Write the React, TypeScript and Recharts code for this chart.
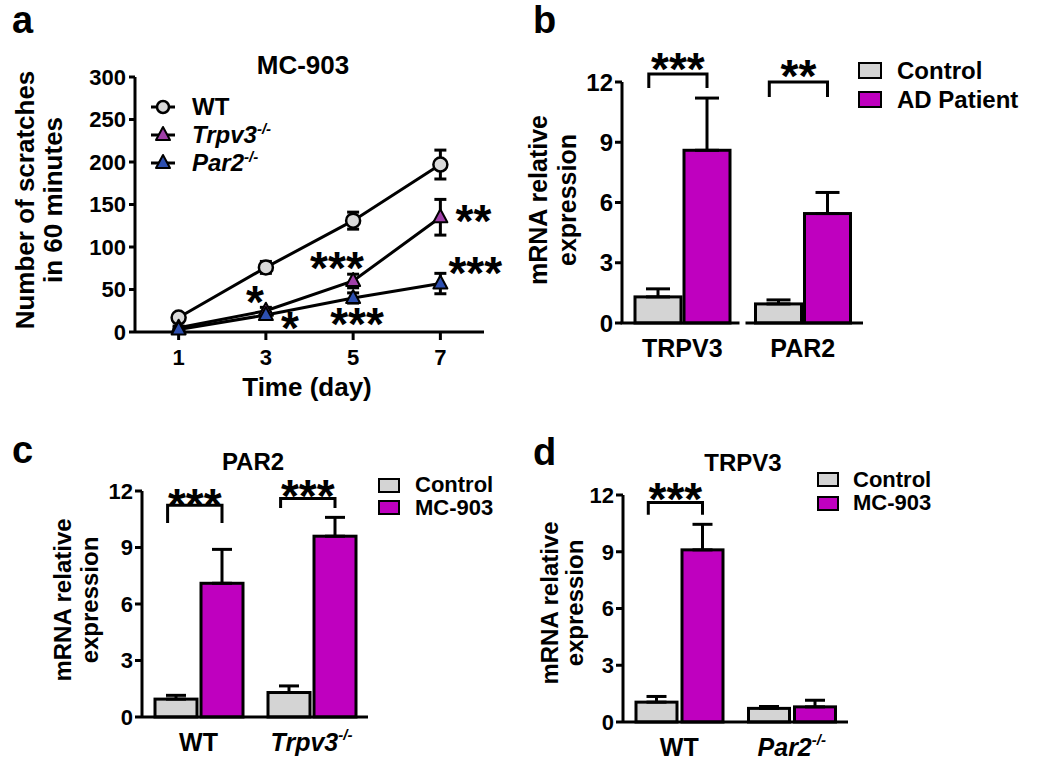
import React from 'react';
import {
  ComposedChart,
  Line,
  Scatter,
  XAxis,
  YAxis,
  ErrorBar,
  Legend,
  BarChart,
  Bar,
} from 'recharts';

const FONT = '"Liberation Sans", Arial, Helvetica, sans-serif';
const BLACK = '#000000';
const GRAY = '#d4d4d4';
const MAGENTA = '#bf00bf';
const WT_FILL = '#d9d9d9';
const TRPV3_FILL = '#a040a8';
const PAR2_FILL = '#2d4fb0';
const STAR_FS = 46;
const STAR_SHIFT = 0.48;

// ---------- Panel a : scratches over time ----------
const days = [1, 3, 5, 7];
const wtScratches = [17, 76, 131, 197];
const wtScratchesSem = [4, 7, 10, 17];
const trpv3Scratches = [5, 25, 60, 135];
const trpv3ScratchesSem = [2, 4, 8, 21];
const par2Scratches = [3, 20, 40, 57];
const par2ScratchesSem = [2, 3, 6, 12];
const scratchTicks = [0, 50, 100, 150, 200, 250, 300];
const dayTicks = [1, 3, 5, 7];
const sigADay = [2.75, 3.55, 4.63, 5.09, 7.76, 7.8];
const sigAValue = [43, 12, 82, 16, 138, 76];
const sigAText = ['*', '*', '***', '***', '**', '***'];

// ---------- Panel b : human skin ----------
const bGenes = ['TRPV3', 'PAR2'];
const bControl = [1.3, 0.95];
const bControlSem = [0.4, 0.2];
const bPatient = [8.6, 5.45];
const bPatientSem = [2.6, 1.05];
const bBracketTop = [12.4, 12.0];
const bBracketLeg = [11.7, 11.25];
const bStarLevel = [12.95, 12.6];
const bStars = ['***', '**'];

// ---------- Panel c : PAR2 expression ----------
const cGenotypes = ['WT', 'Trpv3-/-'];
const cControl = [0.95, 1.3];
const cControlSem = [0.2, 0.35];
const cMC903 = [7.1, 9.6];
const cMC903Sem = [1.8, 1.0];
const cBracketTop = [11.25, 11.6];
const cBracketLeg = [10.3, 11.1];
const cStarLevel = [11.6, 12.05];
const cStars = ['***', '***'];

// ---------- Panel d : TRPV3 expression ----------
const dGenotypes = ['WT', 'Par2-/-'];
const dControl = [1.05, 0.72];
const dControlSem = [0.3, 0.1];
const dMC903 = [9.1, 0.8];
const dMC903Sem = [1.35, 0.35];
const dBracketTop = [11.6, 0];
const dBracketLeg = [10.95, 0];
const dStarLevel = [12.1, 0];
const dStars = ['***', ''];

const exprTicks = [0, 3, 6, 9, 12];

const lineData = days.map((day, i) => ({
  day,
  wt: wtScratches[i],
  wtErr: wtScratchesSem[i],
  trpv3: trpv3Scratches[i],
  trpv3Err: trpv3ScratchesSem[i],
  par2: par2Scratches[i],
  par2Err: par2ScratchesSem[i],
}));
const sigAData = sigADay.map((day, i) => ({ day, y: sigAValue[i], text: sigAText[i] }));

function buildBarData(cats, ctl, ctlSem, trt, trtSem, top, leg, level, stars) {
  return cats.map((cat, i) => ({
    cat,
    ctl: ctl[i],
    ctlErr: [0, ctlSem[i]],
    trt: trt[i],
    trtErr: [0, trtSem[i]],
    bracketTop: top[i],
    bracketLeg: leg[i],
    starLevel: level[i],
    stars: stars[i],
  }));
}
const bData = buildBarData(bGenes, bControl, bControlSem, bPatient, bPatientSem, bBracketTop, bBracketLeg, bStarLevel, bStars);
const cData = buildBarData(cGenotypes, cControl, cControlSem, cMC903, cMC903Sem, cBracketTop, cBracketLeg, cStarLevel, cStars);
const dData = buildBarData(dGenotypes, dControl, dControlSem, dMC903, dMC903Sem, dBracketTop, dBracketLeg, dStarLevel, dStars);

// ---------- shared pieces ----------
const boldText = { fontFamily: FONT, fontWeight: 'bold' as const, color: BLACK };

function GeneLabel({ label, supSize }: { label: string; supSize: number }) {
  const m = label.match(/^(.*?)(-\/-)$/);
  if (!m) return <span>{label}</span>;
  return (
    <span style={{ fontStyle: 'italic' }}>
      {m[1]}
      <sup style={{ fontSize: supSize, lineHeight: 0, verticalAlign: 'super' }}>{m[2]}</sup>
    </span>
  );
}

const CircleDot = (p: any) =>
  p.cx == null ? null : (
    <circle key={`c-${p.index}`} cx={p.cx} cy={p.cy} r={7} fill={WT_FILL} stroke={BLACK} strokeWidth={2.5} />
  );

const makeTriangle = (fill: string) => (p: any) =>
  p.cx == null ? null : (
    <path
      key={`t-${p.index}`}
      d={`M${p.cx},${p.cy - 8} L${p.cx + 7},${p.cy + 5} L${p.cx - 7},${p.cy + 5} Z`}
      fill={fill}
      stroke={BLACK}
      strokeWidth={2}
      strokeLinejoin="round"
    />
  );

const StarShape = (p: any) =>
  p.cx == null ? null : (
    <text
      x={p.cx}
      y={p.cy + STAR_FS * STAR_SHIFT}
      textAnchor="middle"
      fontFamily={FONT}
      fontWeight="bold"
      fontSize={STAR_FS}
      fill={BLACK}
    >
      {p.payload.text}
    </text>
  );

const LineLegend = () => {
  const items = [
    { label: 'WT', icon: 'circle', fill: WT_FILL },
    { label: 'Trpv3-/-', icon: 'tri', fill: TRPV3_FILL },
    { label: 'Par2-/-', icon: 'tri', fill: PAR2_FILL },
  ];
  return (
    <div style={{ ...boldText, fontSize: 24 }}>
      {items.map((it) => (
        <div key={it.label} style={{ display: 'flex', alignItems: 'center', height: 28 }}>
          <svg width={30} height={20} style={{ display: 'block' }}>
            <line x1={3} y1={10} x2={27} y2={10} stroke={BLACK} strokeWidth={3} />
            {it.icon === 'circle' ? (
              <circle cx={15} cy={10} r={6} fill={it.fill} stroke={BLACK} strokeWidth={2.5} />
            ) : (
              <path d="M15,2 L22,15 L8,15 Z" fill={it.fill} stroke={BLACK} strokeWidth={2} strokeLinejoin="round" />
            )}
          </svg>
          <span style={{ marginLeft: 14, lineHeight: 1 }}>
            <GeneLabel label={it.label} supSize={15} />
          </span>
        </div>
      ))}
    </div>
  );
};

const BoxLegend = ({ items, fontSize, boxW, boxH, rowH, gap }: any) => (
  <div style={{ ...boldText, fontSize }}>
    {items.map((it: any) => (
      <div key={it.label} style={{ display: 'flex', alignItems: 'center', height: rowH }}>
        <div
          style={{
            width: boxW,
            height: boxH,
            background: it.color,
            border: `2.5px solid ${BLACK}`,
            boxSizing: 'border-box',
          }}
        />
        <span style={{ marginLeft: gap, lineHeight: 1 }}>{it.label}</span>
      </div>
    ))}
  </div>
);

const CategoryTick = (props: any) => {
  const { x, y, payload, index, fontSize, tickMargin, segment } = props;
  const label = String(payload.value);
  const m = label.match(/^(.*?)(-\/-)$/);
  const axisY = y - tickMargin;
  let seg = null;
  if (segment) {
    const x1 = x - segment.half + (index > 0 ? segment.gap : -1.5);
    const x2 = x + segment.half - (index === 0 ? segment.gap : 0);
    seg = <line x1={x1} y1={axisY} x2={x2} y2={axisY} stroke={BLACK} strokeWidth={3} />;
  }
  return (
    <g>
      {seg}
      <text x={x} y={y} dy="0.71em" textAnchor="middle" fontFamily={FONT} fontWeight="bold" fontSize={fontSize} fill={BLACK}>
        {m ? (
          <>
            <tspan fontStyle="italic">{m[1]}</tspan>
            <tspan fontStyle="italic" fontSize={fontSize * 0.6} dy={-fontSize * 0.42}>
              {m[2]}
            </tspan>
          </>
        ) : (
          label
        )}
      </text>
    </g>
  );
};

const makeTrtShape = (barGap: number) => (p: any) => {
  const { x, y, width, height, payload, fill } = p;
  const parts = [
    <rect key="r" x={x} y={y} width={width} height={height} fill={fill} stroke={BLACK} strokeWidth={3} />,
  ];
  if (payload && payload.stars) {
    const ppu = height / payload.trt;
    const base = y + height;
    const Y = (v: number) => base - v * ppu;
    const xl = x - barGap - width * 0.7;
    const xr = x + width / 2;
    parts.push(
      <path
        key="b"
        d={`M${xl},${Y(payload.bracketLeg)} L${xl},${Y(payload.bracketTop)} L${xr},${Y(payload.bracketTop)} L${xr},${Y(payload.bracketLeg)}`}
        fill="none"
        stroke={BLACK}
        strokeWidth={3}
      />
    );
    parts.push(
      <text
        key="s"
        x={(xl + xr) / 2}
        y={Y(payload.starLevel) + STAR_FS * STAR_SHIFT}
        textAnchor="middle"
        fontFamily={FONT}
        fontWeight="bold"
        fontSize={STAR_FS}
        fill={BLACK}
      >
        {payload.stars}
      </text>
    );
  }
  return <g>{parts}</g>;
};

const CtlShape = (p: any) => (
  <rect x={p.x} y={p.y} width={p.width} height={p.height} fill={p.fill} stroke={BLACK} strokeWidth={3} />
);

function BarPanel(cfg: any) {
  const tickMargin = 16;
  return (
    <div style={{ position: 'absolute', left: cfg.left, top: cfg.top }}>
      <BarChart
        width={cfg.width}
        height={cfg.height}
        data={cfg.data}
        margin={cfg.margin}
        barGap={cfg.barGap}
      >
        <XAxis
          dataKey="cat"
          type="category"
          height={40}
          tickSize={0}
          tickMargin={tickMargin}
          tickLine={false}
          axisLine={cfg.segment ? false : { stroke: BLACK, strokeWidth: 3 }}
          interval={0}
          tick={(p: any) => (
            <CategoryTick {...p} fontSize={cfg.catFont} tickMargin={tickMargin} segment={cfg.segment} />
          )}
        />
        <YAxis
          type="number"
          domain={[0, 12]}
          ticks={exprTicks}
          width={60}
          tickSize={7}
          tickMargin={2}
          axisLine={{ stroke: BLACK, strokeWidth: 3 }}
          tickLine={{ stroke: BLACK, strokeWidth: 3 }}
          tick={{ fill: BLACK, fontSize: cfg.yTickFont, fontWeight: 'bold', fontFamily: FONT }}
        />
        <Legend
          layout="vertical"
          align="center"
          verticalAlign="middle"
          wrapperStyle={{ left: cfg.legend.left, top: cfg.legend.top, width: 'auto' }}
          content={() => (
            <BoxLegend
              items={[
                { label: 'Control', color: GRAY },
                { label: cfg.trtName, color: MAGENTA },
              ]}
              fontSize={cfg.legend.fontSize}
              boxW={cfg.legend.boxW}
              boxH={cfg.legend.boxH}
              rowH={cfg.legend.rowH}
              gap={cfg.legend.gap}
            />
          )}
        />
        <Bar dataKey="ctl" name="Control" fill={GRAY} barSize={cfg.barSize} shape={CtlShape} isAnimationActive={false}>
          <ErrorBar dataKey="ctlErr" width={cfg.capHalf} strokeWidth={3} stroke={BLACK} direction="y" />
        </Bar>
        <Bar
          dataKey="trt"
          name={cfg.trtName}
          fill={MAGENTA}
          barSize={cfg.barSize}
          shape={makeTrtShape(cfg.barGap)}
          isAnimationActive={false}
        >
          <ErrorBar dataKey="trtErr" width={cfg.capHalf} strokeWidth={3} stroke={BLACK} direction="y" />
        </Bar>
      </BarChart>
    </div>
  );
}

function AbsText({ x, y, size, children, style }: any) {
  return (
    <div
      style={{
        position: 'absolute',
        left: x,
        top: y,
        transform: 'translate(-50%, -50%)',
        whiteSpace: 'nowrap',
        lineHeight: 1,
        fontSize: size,
        ...boldText,
        ...style,
      }}
    >
      {children}
    </div>
  );
}

function RotLabel({ x, y, size, lineHeight, lines }: any) {
  return (
    <div
      style={{
        position: 'absolute',
        left: x,
        top: y,
        transform: 'translate(-50%, -50%) rotate(-90deg)',
        whiteSpace: 'nowrap',
        textAlign: 'center',
        lineHeight: `${lineHeight}px`,
        fontSize: size,
        ...boldText,
      }}
    >
      {lines.map((l: string) => (
        <div key={l}>{l}</div>
      ))}
    </div>
  );
}

function PanelLetter({ x, y, children }: any) {
  return (
    <div style={{ position: 'absolute', left: x, top: y, fontSize: 38, lineHeight: 1, ...boldText }}>{children}</div>
  );
}

export default function App() {
  return (
    <div
      style={{
        position: 'absolute',
        left: 0,
        top: 0,
        width: 1050,
        height: 765,
        background: '#ffffff',
        overflow: 'hidden',
        fontFamily: FONT,
      }}
    >
      {/* Panel a */}
      <div style={{ position: 'absolute', left: 0, top: 0 }}>
        <ComposedChart width={520} height={400} data={lineData} margin={{ top: 77, right: 36, bottom: 38, left: 75 }}>
          <XAxis
            dataKey="day"
            type="number"
            domain={[0, 8]}
            ticks={dayTicks}
            height={30}
            tickSize={8}
            tickMargin={9}
            axisLine={{ stroke: BLACK, strokeWidth: 3 }}
            tickLine={{ stroke: BLACK, strokeWidth: 3 }}
            tick={{ fill: BLACK, fontSize: 22, fontWeight: 'bold', fontFamily: FONT }}
          />
          <YAxis
            type="number"
            domain={[0, 300]}
            ticks={scratchTicks}
            width={60}
            tickSize={6}
            tickMargin={3}
            axisLine={{ stroke: BLACK, strokeWidth: 3 }}
            tickLine={{ stroke: BLACK, strokeWidth: 3 }}
            tick={{ fill: BLACK, fontSize: 22, fontWeight: 'bold', fontFamily: FONT }}
          />
          <Legend
            layout="vertical"
            align="center"
            verticalAlign="middle"
            wrapperStyle={{ left: 148, top: 93, width: 'auto' }}
            content={() => <LineLegend />}
          />
          <Line
            dataKey="wt"
            name="WT"
            stroke={BLACK}
            strokeWidth={3}
            dot={CircleDot}
            activeDot={false}
            isAnimationActive={false}
          >
            <ErrorBar dataKey="wtErr" width={6} strokeWidth={3} stroke={BLACK} direction="y" />
          </Line>
          <Line
            dataKey="trpv3"
            name="Trpv3-/-"
            stroke={BLACK}
            strokeWidth={3}
            dot={makeTriangle(TRPV3_FILL)}
            activeDot={false}
            isAnimationActive={false}
          >
            <ErrorBar dataKey="trpv3Err" width={6} strokeWidth={3} stroke={BLACK} direction="y" />
          </Line>
          <Line
            dataKey="par2"
            name="Par2-/-"
            stroke={BLACK}
            strokeWidth={3}
            dot={makeTriangle(PAR2_FILL)}
            activeDot={false}
            isAnimationActive={false}
          >
            <ErrorBar dataKey="par2Err" width={6} strokeWidth={3} stroke={BLACK} direction="y" />
          </Line>
          <Scatter data={sigAData} dataKey="y" shape={StarShape} legendType="none" isAnimationActive={false} />
        </ComposedChart>
      </div>
      <PanelLetter x={12} y={1}>a</PanelLetter>
      <AbsText x={303} y={65} size={26}>MC-903</AbsText>
      <AbsText x={307} y={387} size={26}>Time (day)</AbsText>
      <RotLabel x={39} y={200} size={26} lineHeight={28} lines={['Number of scratches', 'in 60 minutes']} />

      {/* Panel b */}
      <BarPanel
        left={520}
        top={0}
        width={530}
        height={400}
        data={bData}
        margin={{ top: 82, right: 187, bottom: 37, left: 42 }}
        barSize={46}
        barGap={3}
        capHalf={12}
        catFont={25}
        yTickFont={24}
        trtName="AD Patient"
        segment={{ half: 60.25, gap: 3 }}
        legend={{ left: 338, top: 56, fontSize: 24, boxW: 24, boxH: 17, rowH: 29, gap: 15 }}
      />
      <PanelLetter x={533} y={1}>b</PanelLetter>
      <RotLabel x={553} y={200} size={25} lineHeight={29} lines={['mRNA relative', 'expression']} />

      {/* Panel c */}
      <BarPanel
        left={0}
        top={400}
        width={520}
        height={365}
        data={cData}
        margin={{ top: 91, right: 152, bottom: 8, left: 82 }}
        barSize={42}
        barGap={4}
        capHalf={10}
        catFont={25}
        yTickFont={22}
        trtName="MC-903"
        legend={{ left: 378, top: 74, fontSize: 22, boxW: 22, boxH: 15, rowH: 22.5, gap: 15 }}
      />
      <PanelLetter x={12} y={431}>c</PanelLetter>
      <AbsText x={253} y={462} size={24}>PAR2</AbsText>
      <RotLabel x={76} y={600} size={24} lineHeight={27} lines={['mRNA relative', 'expression']} />

      {/* Panel d */}
      <BarPanel
        left={520}
        top={400}
        width={530}
        height={365}
        data={dData}
        margin={{ top: 95, right: 202, bottom: 3, left: 43 }}
        barSize={41}
        barGap={5}
        capHalf={10}
        catFont={25}
        yTickFont={22}
        trtName="MC-903"
        legend={{ left: 297, top: 68, fontSize: 22, boxW: 22, boxH: 15, rowH: 23.5, gap: 14 }}
      />
      <PanelLetter x={533} y={433}>d</PanelLetter>
      <AbsText x={743} y={463} size={24}>TRPV3</AbsText>
      <RotLabel x={562} y={603} size={24} lineHeight={25} lines={['mRNA relative', 'expression']} />
    </div>
  );
}
